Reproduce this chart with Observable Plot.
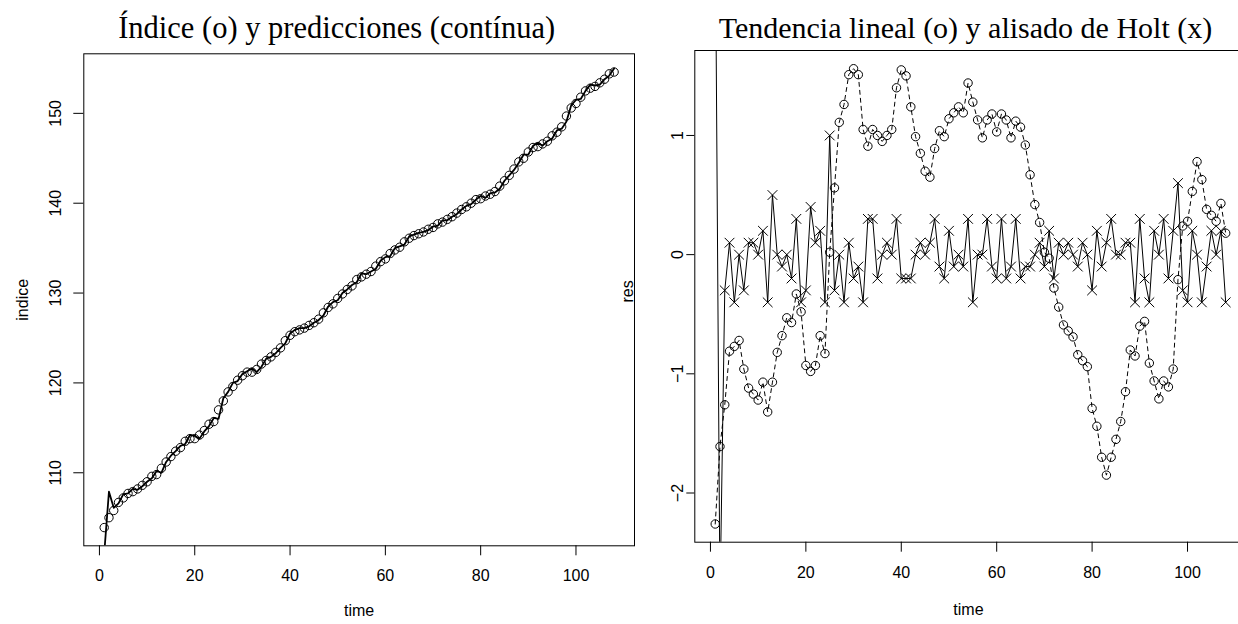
<!DOCTYPE html>
<html><head><meta charset="utf-8">
<script src="https://cdn.jsdelivr.net/npm/d3@7"></script>
<script src="https://cdn.jsdelivr.net/npm/@observablehq/plot@0.6"></script>
<style>
html,body{margin:0;padding:0;background:#fff;overflow:hidden;width:1238px;height:624px}
#wrap{position:relative;width:1238px;height:624px;overflow:hidden;background:#fff}
#left,#right{position:absolute;top:0}
#left{left:0px;width:640px}
#right{left:600px;width:680px}
#wrap svg{max-width:none !important;background:transparent}
</style></head><body>
<div id="wrap"><div id="left"></div><div id="right"></div></div>
<script>
// Índice (o)
const indice = [103.9,105.0,105.8,106.7,107.2,107.7,107.9,108.2,108.6,109.0,
109.6,109.8,110.5,111.2,111.8,112.4,112.8,113.5,113.8,113.8,
114.2,114.7,115.4,115.7,117.0,118.0,119.0,119.6,120.3,120.8,
121.2,121.2,121.5,122.1,122.5,122.9,123.4,123.9,124.7,125.3,
125.7,125.9,126.1,126.4,126.7,127.1,127.8,128.4,128.8,129.4,
129.9,130.4,130.8,131.5,131.8,132.1,132.4,133.0,133.5,133.8,
134.4,134.8,135.1,135.7,136.1,136.4,136.6,136.8,137.1,137.3,
137.7,137.9,138.2,138.5,138.9,139.3,139.6,140.0,140.4,140.5,
140.8,141.0,141.3,141.9,142.5,143.1,143.8,144.6,145.0,145.7,
146.2,146.3,146.6,146.9,147.5,147.9,148.5,149.7,150.6,151.1,
151.8,152.5,152.8,153.0,153.4,153.8,154.4,154.6];
// predicciones (contínua)
const predicciones = [101.0,107.9,106.1,106.6,107.6,107.7,108.2,108.1,108.5,109.0,
109.4,110.2,110.0,111.2,111.9,112.4,113.0,113.2,114.2,114.1,
113.8,114.6,115.2,116.1,116.0,118.3,119.0,120.0,120.2,121.0,
121.3,121.6,121.2,121.8,122.7,122.9,123.3,123.9,124.4,125.5,
125.9,126.1,126.1,126.3,126.7,127.0,127.5,128.5,129.0,129.2,
130.0,130.4,130.9,131.2,132.2,132.1,132.4,132.7,133.6,134.0,
134.1,135.0,135.2,135.4,136.3,136.5,136.7,136.8,137.0,137.4,
137.5,138.1,138.1,138.5,138.8,139.3,139.7,139.9,140.4,140.8,
140.6,141.1,141.2,141.6,142.5,143.1,143.7,144.5,145.4,145.4,
146.4,146.7,146.4,146.9,147.2,148.1,148.3,149.1,150.9,151.5,
151.6,152.5,153.2,153.1,153.2,153.8,154.2,155.0];
// Tendencia lineal (o): residuos
const resLineal = [-2.26,-1.61,-1.26,-0.81,-0.77,-0.72,-0.96,-1.12,-1.17,-1.22,
-1.07,-1.32,-1.07,-0.82,-0.68,-0.53,-0.57,-0.33,-0.48,-0.93,
-0.98,-0.93,-0.68,-0.83,0.02,0.56,1.11,1.26,1.51,1.56,
1.51,1.05,0.91,1.05,1.00,0.95,1.00,1.05,1.40,1.55,
1.50,1.24,0.99,0.85,0.70,0.65,0.89,1.04,0.99,1.14,
1.19,1.24,1.19,1.44,1.28,1.13,0.98,1.13,1.18,1.03,
1.18,1.13,0.98,1.12,1.07,0.92,0.67,0.42,0.27,0.02,
-0.03,-0.28,-0.44,-0.59,-0.64,-0.69,-0.84,-0.89,-0.94,-1.29,
-1.44,-1.70,-1.85,-1.70,-1.55,-1.40,-1.15,-0.80,-0.85,-0.60,
-0.56,-0.91,-1.06,-1.21,-1.06,-1.11,-0.96,-0.21,0.24,0.28,
0.53,0.78,0.63,0.38,0.33,0.28,0.43,0.18];
// alisado de Holt (x): residuos
const resHolt = [2.9,-2.9,-0.3,0.1,-0.4,0,-0.3,0.1,0.1,0,
0.2,-0.4,0.5,0,-0.1,0,-0.2,0.3,-0.4,-0.3,
0.4,0.1,0.2,-0.4,1.0,-0.3,0,-0.4,0.1,-0.2,
-0.1,-0.4,0.3,0.3,-0.2,0,0.1,0,0.3,-0.2,
-0.2,-0.2,0,0.1,0,0.1,0.3,-0.1,-0.2,0.2,
-0.1,0,-0.1,0.3,-0.4,0,0,0.3,-0.1,-0.2,
0.3,-0.2,-0.1,0.3,-0.2,-0.1,-0.1,0,0.1,-0.1,
0.2,-0.2,0.1,0,0.1,0,-0.1,0.1,0,-0.3,
0.2,-0.1,0.1,0.3,0,0,0.1,0.1,-0.4,0.3,
-0.2,-0.4,0.2,0,0.3,-0.2,0.2,0.6,-0.3,-0.4,
0.2,0,-0.4,-0.1,0.2,0,0.2,-0.4];

const xTicks = [0, 20, 40, 60, 80, 100];
const yTicksLeft = [110, 120, 130, 140, 150];
const yTicksRight = [-2, -1, 0, 1];
const titleLeft = "Índice (o) y predicciones (contínua)";
const titleRight = "Tendencia lineal (o) y alisado de Holt (x)";
const labelX = "time";
const labelYLeft = "indice";
const labelYRight = "res";

const time = indice.map((_, i) => i + 1);
const dataL = time.map((t, i) => ({t, indice: indice[i], pred: predicciones[i]}));
const dataR = time.map((t, i) => ({t, lin: resLineal[i], holt: resHolt[i]}));

// R-style 4% axis expansion
function rdomain(vals) {
  const lo = d3.min(vals), hi = d3.max(vals), pad = (hi - lo) * 0.04;
  return [lo - pad, hi + pad];
}
const xDom = rdomain(time);

const sans = "'Liberation Sans', Arial, Helvetica, sans-serif";
const serif = "'Liberation Serif', 'Times New Roman', serif";
const baseStyle = {fontFamily: sans, fontSize: "16px", color: "#000", background: "transparent", overflow: "visible", maxWidth: "none"};
const intFmt = d => String(d).replace("-", "\u2212");

const left = Plot.plot({
  width: 640, height: 624,
  marginLeft: 83.3, marginRight: 6, marginTop: 53.3, marginBottom: 78.7,
  style: baseStyle,
  x: {domain: xDom},
  y: {domain: rdomain(indice)},
  marks: [
    Plot.axisX({ticks: xTicks, tickSize: 10, tickPadding: 14, label: null, fontSize: 16, tickFormat: intFmt}),
    Plot.axisY({ticks: yTicksLeft, tickSize: 10, tickPadding: 13, tickRotate: -90, label: null, fontSize: 16, tickFormat: intFmt}),
    Plot.line(dataL, {x: "t", y: "pred", stroke: "#000", strokeWidth: 1.8, clip: true}),
    Plot.dot(dataL, {x: "t", y: "indice", r: 4.2, stroke: "#000", strokeWidth: 1, fill: "none", clip: true}),
    Plot.frame({stroke: "#000", strokeWidth: 1}),
    Plot.text([titleLeft], {text: d => d, frameAnchor: "top", textAnchor: "middle", lineAnchor: "middle", dy: -25.3, dx: -22.5, fontSize: 30.5, fontFamily: serif}),
    Plot.text([labelYLeft], {text: d => d, frameAnchor: "left", textAnchor: "middle", lineAnchor: "middle", dx: -61, rotate: -90, fontSize: 16}),
    Plot.text([labelX], {text: d => d, frameAnchor: "bottom", textAnchor: "middle", lineAnchor: "middle", dy: 64.7, fontSize: 16})
  ]
});
document.getElementById("left").appendChild(left);

const right = Plot.plot({
  width: 680, height: 624,
  marginLeft: 94.3, marginRight: 34.4, marginTop: 50, marginBottom: 82.3,
  style: baseStyle,
  x: {domain: xDom},
  y: {domain: rdomain(resLineal)},
  marks: [
    Plot.axisX({ticks: xTicks, tickSize: 10, tickPadding: 14, label: null, fontSize: 16, tickFormat: intFmt}),
    Plot.axisY({ticks: yTicksRight, tickSize: 8, tickPadding: 4, tickRotate: -90, label: null, fontSize: 16, tickFormat: intFmt}),
    Plot.line(dataR, {x: "t", y: "lin", stroke: "#000", strokeWidth: 1, strokeDasharray: "4,4", clip: true}),
    Plot.dot(dataR, {x: "t", y: "lin", r: 4.2, stroke: "#000", strokeWidth: 1, fill: "none", clip: true}),
    Plot.line(dataR, {x: "t", y: "holt", stroke: "#000", strokeWidth: 1, clip: true}),
    Plot.dot(dataR, {x: "t", y: "holt", symbol: "times", r: 4.5, stroke: "#000", strokeWidth: 1, fill: "none", clip: true}),
    Plot.frame({stroke: "#000", strokeWidth: 1}),
    Plot.text([titleRight], {text: d => d, frameAnchor: "top", textAnchor: "middle", lineAnchor: "middle", dy: -22, dx: -5, fontSize: 30, fontFamily: serif}),
    Plot.text([labelYRight], {text: d => d, frameAnchor: "left", textAnchor: "middle", lineAnchor: "middle", dx: -67.3, dy: -5, rotate: -90, fontSize: 16}),
    Plot.text([labelX], {text: d => d, frameAnchor: "bottom", textAnchor: "middle", lineAnchor: "middle", dy: 67.3, dx: -2, fontSize: 16})
  ]
});
document.getElementById("right").appendChild(right);
</script>
</body></html>
